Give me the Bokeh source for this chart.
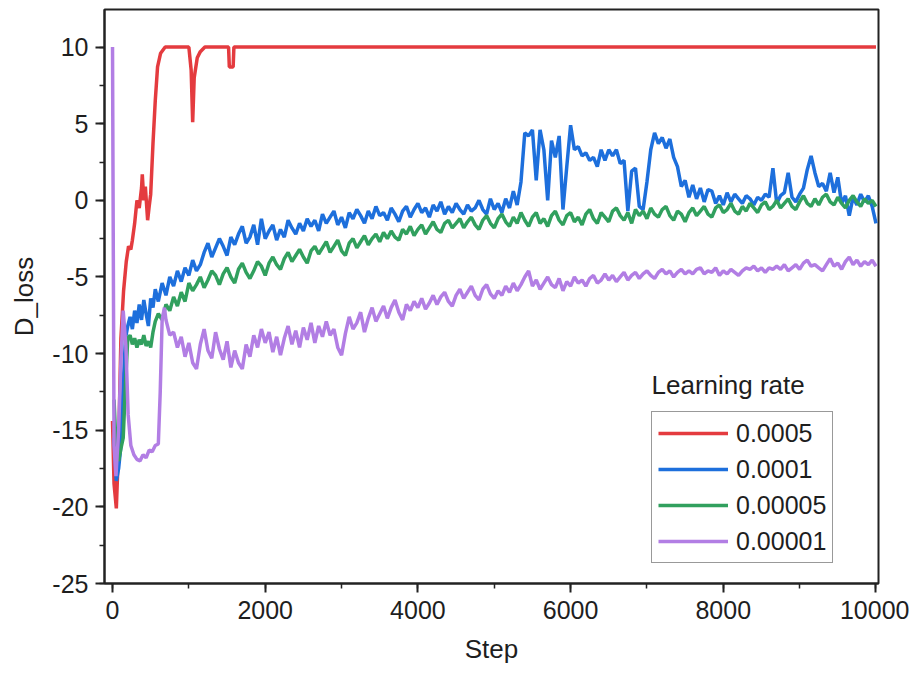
from bokeh.plotting import figure
from bokeh.models import Range1d, SingleIntervalTicker, Legend, LegendItem, Label, PrintfTickFormatter
from bokeh.embed import file_html
from bokeh.resources import INLINE

# ---------------- data ----------------
series_names = ["0.0005", "0.0001", "0.00005", "0.00001"]
legend_title = "Learning rate"
x_ticks_interval = 2000
y_ticks_interval = 5

red_steps = [0, 20, 50, 80, 110, 145, 180, 210, 240, 260,
             290, 320, 350, 380, 390, 410, 430, 460, 480, 500,
             530, 560, 590, 630, 690, 1000, 1030, 1050, 1070, 1110,
             1150, 1210, 1520, 1530, 1580, 1590, 10000]
red_loss = [-14.4, -18.5, -20.1, -16.0, -9.0, -5.9, -4.0, -3.0, -3.2, -2.6,
            -1.5, 0.0, -0.5, 0.8, 1.7, 0.0, 0.9, -1.3, -0.4, 0.4,
            3.7, 6.5, 8.7, 9.6, 10.0, 10.0, 8.5, 5.1, 8.0, 9.3,
            9.7, 10.0, 10.0, 8.7, 8.7, 10.0, 10.0]

# common sampling grid after the first 1000 steps
grid_steps = list(range(1000, 10001, 50))

blue_early_steps = [20, 50, 80, 110, 140, 170, 200, 230, 260, 290,
                    320, 350, 380, 410, 440, 470, 500, 530, 560, 600,
                    650, 700, 750, 800, 850, 900, 950]
blue_early_loss = [-15.5, -18.3, -17.5, -16.0, -12.0, -9.0, -8.2, -7.6, -8.4, -7.2,
                   -8.0, -6.8, -7.8, -6.5, -7.4, -8.2, -6.4, -7.0, -5.8, -6.6,
                   -5.4, -6.2, -5.0, -5.6, -4.6, -5.3, -4.4]
blue_loss = [
    -4.9, -3.9, -4.6, -4.2, -3.4, -2.8, -3.7, -3.1, -2.5, -3.0,
    -3.6, -2.4, -2.9, -2.2, -1.7, -2.8, -2.4, -1.6, -2.9, -1.2,
    -2.5, -2.0, -1.6, -2.6, -1.9, -2.4, -1.3, -1.8, -2.2, -1.5,
    -2.0, -1.2, -1.7, -1.3, -2.0, -0.9, -1.5, -1.1, -0.7, -1.6,
    -1.1, -1.8, -0.8, -1.2, -0.6, -1.0, -1.5, -0.7, -1.2, -0.4,
    -1.0, -0.8, -1.3, -0.5, -0.9, -1.4, -0.7, -0.4, -1.1, -0.6,
    -0.2, -0.8, -0.5, -1.1, -0.3, -0.7, -0.1, -0.9, -0.4, -0.8,
    -0.2, -0.6, -0.9, -0.3, -0.7, -0.5, 0.0, -0.6, -0.9, 0.1,
    -0.6, -0.2, -0.8, 0.1, -0.5, 0.6, -0.3, 1.2, 4.4, 4.2,
    4.6, 1.3, 4.6, 3.3, 0.0, 3.9, 2.8, 4.2, -0.6, 2.2,
    4.9, 3.3, 3.5, 2.9, 3.1, 2.6, 2.8, 2.2, 3.3, 2.6,
    3.3, 2.9, 3.3, 2.4, 2.6, -0.7, 1.9, 2.1, -0.4, -0.6,
    1.2, 3.3, 4.4, 3.7, 4.1, 3.4, 4.0, 2.8, 2.2, 0.9,
    1.3, 0.2, 1.0, 0.1, 0.8, -0.1, 0.7, 0.6, -0.2, 0.3,
    -0.3, 0.5, -0.1, 0.4, 0.1, -0.2, 0.3, 0.1, -0.3, 0.2,
    0.0, 0.4, 0.2, 2.1, -0.2, 0.3, 0.5, 1.8, 0.2, -0.1,
    0.4, 0.8, 2.0, 2.9, 1.8, 0.9, 1.1, 0.6, 1.8, 0.5,
    1.5, -0.2, 0.3, -1.0, 0.2, -0.3, 0.4, -0.1, 0.3, -0.4,
    -1.5]

green_early_steps = [20, 50, 80, 110, 140, 170, 200, 230, 260, 290,
                     320, 350, 380, 410, 440, 470, 500, 530, 560, 600,
                     650, 700, 750, 800, 850, 900, 950]
green_early_loss = [-13.0, -16.5, -17.0, -16.2, -15.5, -12.0, -9.0, -8.8, -9.4, -9.0,
                    -9.6, -9.1, -9.4, -8.8, -9.5, -9.2, -9.6, -8.6, -7.9, -7.4,
                    -7.8, -6.8, -7.2, -6.3, -6.9, -6.0, -6.6]
green_loss = [
    -5.4, -5.9, -5.5, -5.0, -5.7, -5.2, -4.6, -4.9, -5.5, -4.8,
    -4.4, -5.0, -5.4, -4.5, -4.1, -4.7, -5.1, -4.6, -4.0, -4.3,
    -4.9, -4.1, -3.7, -4.2, -4.5, -3.8, -3.4, -4.0, -3.6, -3.2,
    -3.7, -4.1, -3.3, -3.0, -3.5, -3.1, -2.7, -3.4, -3.0, -2.6,
    -3.3, -3.6, -2.8, -2.5, -3.1, -2.7, -2.3, -2.9, -2.5, -2.2,
    -2.7, -2.1, -2.5, -2.0, -2.4, -2.6, -1.9, -2.2, -1.7, -2.3,
    -1.9, -1.6, -2.2, -1.8, -1.4, -1.9, -2.1, -1.5, -1.3, -1.8,
    -1.5, -1.2, -1.8, -1.4, -1.1, -1.6, -1.9, -1.3, -1.0, -1.5,
    -1.8, -1.2, -0.9, -1.4, -1.7, -1.1, -1.5, -0.8, -1.3, -1.7,
    -1.1, -0.8, -1.5, -1.2, -1.7, -1.0, -0.7, -1.3, -1.6, -1.0,
    -0.8, -1.4, -1.1, -1.6, -0.9, -0.6, -1.2, -1.5, -0.8, -1.1,
    -1.4, -0.7, -0.5, -1.0, -1.3, -0.8, -1.5, -0.6, -1.0, -0.7,
    -1.2, -0.5, -0.9, -1.1, -0.6, -0.4, -1.0, -1.3, -0.7, -0.9,
    -1.4, -0.8, -0.5, -1.0, -0.7, -0.4, -0.9, -1.1, -0.5, -0.3,
    -0.8, -0.6, -0.2, -0.7, -0.9, -0.4, -0.7, -0.2, -0.5, -0.8,
    -0.3, -0.1, -0.6, -0.4, 0.0, -0.5, -0.2, 0.1, -0.4, -0.6,
    -0.1, 0.3, -0.2, -0.4, 0.1, -0.3, 0.2, 0.4, -0.1, -0.3,
    0.2, -0.2, -0.5, 0.0, 0.3, -0.1, -0.4, 0.1, -0.2, 0.0,
    -0.4]

purple_early_steps = [0, 20, 45, 80, 110, 140, 175, 205, 240, 280,
                      320, 360, 400, 440, 480, 520, 560, 600, 625, 650,
                      680, 700, 750, 800, 850, 900, 950]
purple_early_loss = [10.0, -16.0, -18.0, -15.0, -10.5, -7.2, -9.5, -14.0, -16.0, -16.6,
                     -16.9, -17.0, -16.6, -16.8, -16.3, -16.4, -16.0, -15.9, -12.5, -7.8,
                     -7.0, -7.8, -8.8, -8.6, -9.6, -8.9, -10.2]
purple_loss = [
    -9.3, -10.6, -11.0, -9.4, -8.4, -9.8, -10.3, -8.6, -9.7, -10.4,
    -9.2, -10.9, -9.8, -10.6, -11.0, -9.4, -10.2, -8.8, -9.6, -8.4,
    -9.3, -8.6, -9.9, -8.9, -10.1, -9.0, -8.2, -9.4, -8.5, -9.6,
    -8.3, -9.1, -8.0, -9.3, -8.2, -8.9, -7.9, -8.8, -8.4, -9.6,
    -10.1, -8.7, -7.6, -8.4, -8.0, -7.3, -8.6, -7.7, -7.0, -7.9,
    -7.4, -6.9, -7.7, -7.0, -6.5, -7.3, -7.8, -6.8, -7.2, -6.6,
    -7.0, -6.4, -7.1, -6.7, -6.2, -6.8, -6.3, -6.0, -6.6, -6.9,
    -6.2, -5.8, -6.4, -6.0, -5.6, -6.2, -6.5, -5.8, -5.5, -6.1,
    -6.4, -5.9, -6.2, -5.6, -6.0, -5.4, -5.9, -5.5, -5.0, -4.6,
    -5.6, -5.2, -5.8, -5.4, -5.0, -5.5, -5.7, -5.1, -5.9, -5.3,
    -5.6, -5.0, -5.4, -5.2, -5.6, -5.1, -4.9, -5.4, -5.2, -4.8,
    -5.2, -4.9, -5.3, -5.0, -4.7, -5.2, -4.9, -4.7, -5.1, -4.8,
    -4.6, -4.9, -5.1, -4.7, -4.5, -4.8, -4.6, -5.0, -4.7, -4.5,
    -4.8, -4.6, -4.8, -4.5, -4.4, -4.8, -4.6, -4.7, -4.4, -4.9,
    -4.6, -4.8, -4.5, -4.7, -4.9, -4.6, -4.4, -4.5, -4.3, -4.6,
    -4.4, -4.7, -4.4, -4.5, -4.3, -4.5, -4.2, -4.6, -4.4, -4.2,
    -4.5, -4.1, -3.9, -4.3, -4.2, -4.4, -4.6, -4.2, -3.8, -4.3,
    -4.1, -4.5, -4.0, -3.7, -4.2, -3.9, -4.3, -4.0, -4.2, -3.9,
    -4.3]

colors = ["#e43b3f", "#1d6fdc", "#31a05e", "#b27ee4"]

# ---------------- figure ----------------
FONT = "Liberation Sans"
TXT = "#1e1e1e"

p = figure(frame_width=774, frame_height=574,
           min_border_left=104, min_border_right=31, min_border_top=9, min_border_bottom=92,
           x_range=Range1d(-105, 10033), y_range=Range1d(-25, 12.45),
           output_backend="svg", toolbar_location=None,
           background_fill_color="white", border_fill_color="white")

p.xgrid.visible = False
p.ygrid.visible = False
p.outline_line_color = "#222222"
p.outline_line_width = 2
p.outline_line_alpha = 1.0

p.xaxis.ticker = SingleIntervalTicker(interval=x_ticks_interval, num_minor_ticks=2)
p.yaxis.ticker = SingleIntervalTicker(interval=y_ticks_interval, num_minor_ticks=2)
p.xaxis.formatter = PrintfTickFormatter(format="%d")
p.yaxis.formatter = PrintfTickFormatter(format="%d")

for ax in (p.xaxis[0], p.yaxis[0]):
    ax.axis_line_color = "#222222"
    ax.axis_line_width = 2
    ax.major_tick_line_color = "#222222"
    ax.major_tick_line_width = 2
    ax.minor_tick_line_color = "#222222"
    ax.minor_tick_line_width = 1.5
    ax.major_tick_out = 9
    ax.major_tick_in = 0
    ax.minor_tick_out = 5
    ax.minor_tick_in = 0
    ax.major_label_text_font = FONT
    ax.major_label_text_font_size = "25px"
    ax.major_label_text_color = TXT
    ax.axis_label_text_font = FONT
    ax.axis_label_text_font_size = "26px"
    ax.axis_label_text_font_style = "normal"
    ax.axis_label_text_color = TXT

p.xaxis.axis_label = "Step"
p.yaxis.axis_label = "D_loss"
p.xaxis.major_label_standoff = 8
p.yaxis.major_label_standoff = 7
p.xaxis.axis_label_standoff = 12
p.yaxis.axis_label_standoff = 10

LW = 3.5
r_red = p.line(red_steps, red_loss, line_color=colors[0], line_width=LW)
r_blue = p.line(blue_early_steps + grid_steps, blue_early_loss + blue_loss,
                line_color=colors[1], line_width=LW)
r_green = p.line(green_early_steps + grid_steps, green_early_loss + green_loss,
                 line_color=colors[2], line_width=LW)
r_purple = p.line(purple_early_steps + grid_steps, purple_early_loss + purple_loss,
                  line_color=colors[3], line_width=LW)

legend = Legend(items=[LegendItem(label=series_names[0], renderers=[r_red]),
                       LegendItem(label=series_names[1], renderers=[r_blue]),
                       LegendItem(label=series_names[2], renderers=[r_green]),
                       LegendItem(label=series_names[3], renderers=[r_purple])],
                location=(547, 20), orientation="vertical",
                glyph_width=70, glyph_height=30, label_height=30,
                spacing=6, padding=6, margin=0, label_standoff=8,
                label_text_font=FONT, label_text_font_size="25px",
                label_text_color=TXT,
                border_line_color="#333333", border_line_width=1.5,
                background_fill_color="white", background_fill_alpha=1.0)
p.add_layout(legend, "center")

title_lbl = Label(x=7060, y=-12.05, text=legend_title, text_font=FONT,
                  text_font_size="26px", text_color=TXT, text_baseline="middle",
                  text_align="left")
p.add_layout(title_lbl)

open("out.html", "w").write(file_html(p, INLINE))
